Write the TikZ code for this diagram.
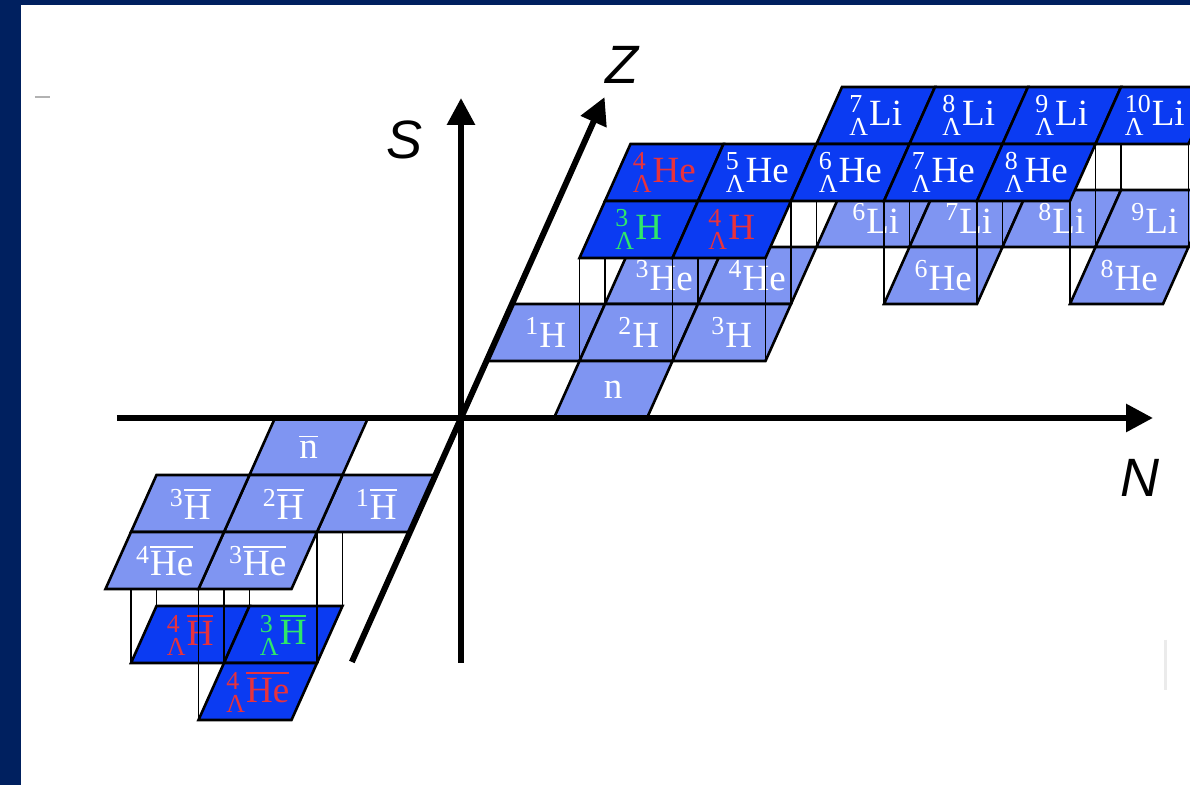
\documentclass[tikz,border=0pt]{standalone}
\usepackage{fontspec}
\usepackage{amsmath}
\setmainfont{Liberation Serif}
\setsansfont{Liberation Sans}
\usetikzlibrary{arrows.meta}
\definecolor{cnavy}{HTML}{00205F}
\definecolor{clight}{HTML}{7F95F2}
\definecolor{cdark}{HTML}{0B3BF2}
\definecolor{cred}{HTML}{E8323C}
\definecolor{cgreen}{HTML}{2EE86A}
\tikzset{
  every picture/.style={line join=miter},
  axis/.style={line width=3pt, -{Triangle[length=13.5pt, width=13.5pt]}},
  axislabel/.style={font=\sffamily\itshape\fontsize{27}{30}\selectfont, inner sep=0pt},
  cell/.style={draw=black, line width=1.3pt, fill=#1},
  cell/.default=clight,
  celllabel/.style={text=white, font=\fontsize{18.5}{20}\selectfont, inner sep=0pt},
  drop/.style={line width=0.55pt, draw=black},
}
\newcommand{\nuc}[2]{${}^{\text{#1}}$#2}
\newcommand{\hyp}[2]{${}^{\text{#1}}_{\text{Λ}}$#2}
\newcommand{\anti}[1]{$\overline{\text{#1}}$}

\begin{document}
\begin{tikzpicture}[x={(46.5pt,0pt)}, y={(12.75pt,28.5pt)}, z={(0pt,0.5pt)}]
  \useasboundingbox (-230.5pt,-183.5pt) rectangle (364.5pt,209pt);
  \fill[white] (-230.5pt,-183.5pt) rectangle (364.5pt,209pt);
  \clip (-230.5pt,-183.5pt) rectangle (364.5pt,209pt);
  % frame
  \fill[cnavy] (-230.5pt,-183.5pt) rectangle (-220pt,209pt);
  \fill[cnavy] (-230.5pt,206.5pt) rectangle (364.5pt,209pt);
  \draw[black!30, line width=1pt] (-213pt,160.5pt) -- (-205.5pt,160.5pt);
  \draw[black!8, line width=1.5pt] (352pt,-111pt) -- (352pt,-136pt);
  % nuclei, S = 0
  \foreach \nn/\zz/\lab [count=\i] in {3/3/{\nuc{6}{Li}}, 4/3/{\nuc{7}{Li}}, 5/3/{\nuc{8}{Li}}, 6/3/{\nuc{9}{Li}},
      1/2/{\nuc{3}{He}}, 2/2/{\nuc{4}{He}}, 4/2/{\nuc{6}{He}}, 6/2/{\nuc{8}{He}},
      0/1/{\nuc{1}{H}}, 1/1/{\nuc{2}{H}}, 2/1/{\nuc{3}{H}}, 1/0/n} {
    \draw[cell] (\nn,\zz,0) -- ++(1,0,0) -- ++(0,1,0) -- ++(-1,0,0) -- cycle;
    \node[celllabel] (nuc\i) at (\nn+0.5,\zz+0.5,0) {\lab};
  }
  % edges down from the hypernuclei
  \foreach \nn/\zz in {3/3, 4/3, 5/3, 6/3, 1/2, 2/2, 3/2, 4/2, 5/2, 1/1, 2/1} {
    \foreach \dn/\dz in {0/0, 1/0, 0/1, 1/1}
      \draw[drop] (\nn+\dn,\zz+\dz,103) -- (\nn+\dn,\zz+\dz,0);
  }
  % hypernuclei
  \foreach \nn/\zz/\col/\lab [count=\i] in {3/3/white/{\hyp{7}{Li}}, 4/3/white/{\hyp{8}{Li}},
      5/3/white/{\hyp{9}{Li}}, 6/3/white/{\hyp{10}{Li}},
      1/2/cred/{\hyp{4}{He}}, 2/2/white/{\hyp{5}{He}}, 3/2/white/{\hyp{6}{He}},
      4/2/white/{\hyp{7}{He}}, 5/2/white/{\hyp{8}{He}},
      1/1/cgreen/{\hyp{3}{H}}, 2/1/cred/{\hyp{4}{H}}} {
    \draw[cell=cdark] (\nn,\zz,103) -- ++(1,0,0) -- ++(0,1,0) -- ++(-1,0,0) -- cycle;
    \node[celllabel, text=\col] (hyp\i) at (\nn+0.5,\zz+0.5,103) {\lab};
  }
  % antihypernuclei
  \foreach \nn/\zz/\col/\lab [count=\i] in {-3/-2/cred/{\hyp{4}{\anti{H}}},
      -2/-2/cgreen/{\hyp{3}{\anti{H}}}, -2/-3/cred/{\hyp{4}{\anti{He}}}} {
    \draw[cell=cdark] (\nn,\zz,-131) -- ++(1,0,0) -- ++(0,1,0) -- ++(-1,0,0) -- cycle;
    \node[celllabel, text=\col] (ahyp\i) at (\nn+0.5,\zz+0.5,-131) {\lab};
  }
  \foreach \nn/\zz in {-3/-2, -3/-1, -2/-3, -2/-2, -2/-1, -1/-2, -1/-1}
    \draw[drop] (\nn,\zz,0) -- (\nn,\zz,-131);
  % antinuclei
  \foreach \nn/\zz/\lab [count=\i] in {-2/-1/{\anti{n}}, -1/-2/{\nuc{1}{\anti{H}}},
      -2/-2/{\nuc{2}{\anti{H}}}, -3/-2/{\nuc{3}{\anti{H}}},
      -2/-3/{\nuc{3}{\anti{He}}}, -3/-3/{\nuc{4}{\anti{He}}}} {
    \draw[cell] (\nn,\zz,0) -- ++(1,0,0) -- ++(0,1,0) -- ++(-1,0,0) -- cycle;
    \node[celllabel] (anuc\i) at (\nn+0.5,\zz+0.5,0) {\lab};
  }
  % axes
  \coordinate (Nfrom) at (-172pt,0pt);
  \coordinate (Nto) at (346pt,0pt);
  \coordinate (Sfrom) at (0pt,-122.5pt);
  \coordinate (Sto) at (0pt,160pt);
  \coordinate (Zfrom) at (0,-4.28,0);
  \coordinate (Zto) at (0,5.63,0);
  \draw[axis] (Nfrom) -- (Nto);
  \draw[axis] (Sfrom) -- (Sto);
  \draw[axis] (Zfrom) -- (Zto);
  \node[axislabel] (Nlab) at (339.5pt,-30pt) {N};
  \node[axislabel] (Slab) at (-28pt,139pt) {S};
  \node[axislabel] (Zlab) at (80.5pt,176.5pt) {Z};
\end{tikzpicture}
\end{document}
